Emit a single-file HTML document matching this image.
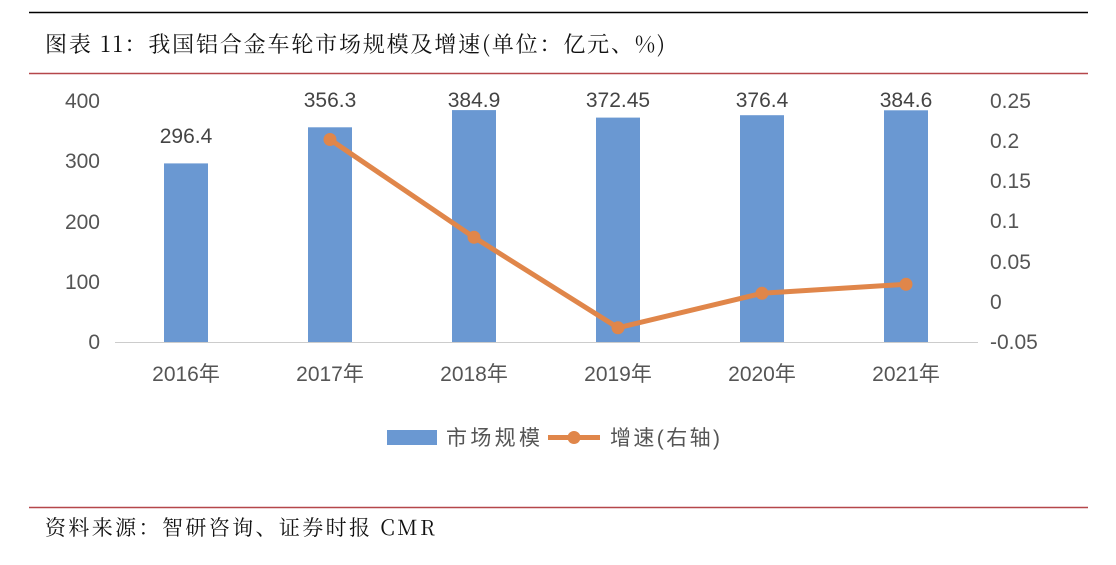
<!DOCTYPE html>
<html><head><meta charset="utf-8"><style>
body{margin:0;background:#fff;}
svg text{font-family:"Liberation Sans","Noto Sans CJK SC",sans-serif;}
</style></head><body>
<svg width="1116" height="560" xmlns="http://www.w3.org/2000/svg">
<rect width="1116" height="560" fill="#fff"/>
<line x1="29" y1="12.5" x2="1088" y2="12.5" stroke="#000" stroke-width="1.5"/>
<text x="45" y="52" font-size="22" fill="#111" textLength="620" lengthAdjust="spacing" style="font-family:'Noto Serif CJK SC','Liberation Serif',serif">图表 11：我国铝合金车轮市场规模及增速(单位：亿元、%)</text>
<line x1="29" y1="73.5" x2="1088" y2="73.5" stroke="#b5474a" stroke-width="1.5"/>
<g font-size="21" fill="#555" text-anchor="end">
<text x="100" y="108">400</text><text x="100" y="168">300</text><text x="100" y="229">200</text><text x="100" y="289">100</text><text x="100" y="349">0</text>
</g>
<g font-size="21" fill="#555" text-anchor="start">
<text x="990" y="108">0.25</text><text x="990" y="148">0.2</text><text x="990" y="188">0.15</text><text x="990" y="228">0.1</text><text x="990" y="269">0.05</text><text x="990" y="309">0</text><text x="990" y="349">-0.05</text>
</g>
<g fill="#6a98d2">
<rect x="164" y="163.4" width="44" height="178.6"/>
<rect x="308" y="127.3" width="44" height="214.7"/>
<rect x="452" y="110.1" width="44" height="231.9"/>
<rect x="596" y="117.6" width="44" height="224.4"/>
<rect x="740" y="115.2" width="44" height="226.8"/>
<rect x="884" y="110.3" width="44" height="231.7"/>
</g>
<line x1="115" y1="342.5" x2="978" y2="342.5" stroke="#ccc" stroke-width="1"/>
<g font-size="21" fill="#444" text-anchor="middle">
<text x="186" y="143">296.4</text><text x="330" y="107">356.3</text><text x="474" y="107">384.9</text><text x="618" y="107">372.45</text><text x="762" y="107">376.4</text><text x="906" y="107">384.6</text>
</g>
<polyline points="330,139.5 474,237.3 618,327.8 762,293.3 906,284.3" fill="none" stroke="#e0864a" stroke-width="5" stroke-linejoin="round"/>
<g fill="#e0864a">
<circle cx="330" cy="139.5" r="6.5"/><circle cx="474" cy="237.3" r="6.5"/><circle cx="618" cy="327.8" r="6.5"/><circle cx="762" cy="293.3" r="6.5"/><circle cx="906" cy="284.3" r="6.5"/>
</g>
<g font-size="21" fill="#555" text-anchor="middle">
<text x="186" y="381">2016年</text><text x="330" y="381">2017年</text><text x="474" y="381">2018年</text><text x="618" y="381">2019年</text><text x="762" y="381">2020年</text><text x="906" y="381">2021年</text>
</g>
<rect x="387" y="430" width="50" height="15" fill="#6a98d2"/>
<text x="446" y="445" font-size="21" fill="#555" textLength="94" lengthAdjust="spacing">市场规模</text>
<line x1="548" y1="437.5" x2="600" y2="437.5" stroke="#e0864a" stroke-width="5"/>
<circle cx="574" cy="437.5" r="6.5" fill="#e0864a"/>
<text x="610" y="445" font-size="21" fill="#555" textLength="110" lengthAdjust="spacing">增速(右轴)</text>
<line x1="29" y1="507.5" x2="1088" y2="507.5" stroke="#b5474a" stroke-width="1.5"/>
<text x="45" y="535" font-size="21" fill="#111" textLength="390" lengthAdjust="spacing" style="font-family:'Noto Serif CJK SC','Liberation Serif',serif">资料来源：智研咨询、证券时报 CMR</text>
</svg>
</body></html>
